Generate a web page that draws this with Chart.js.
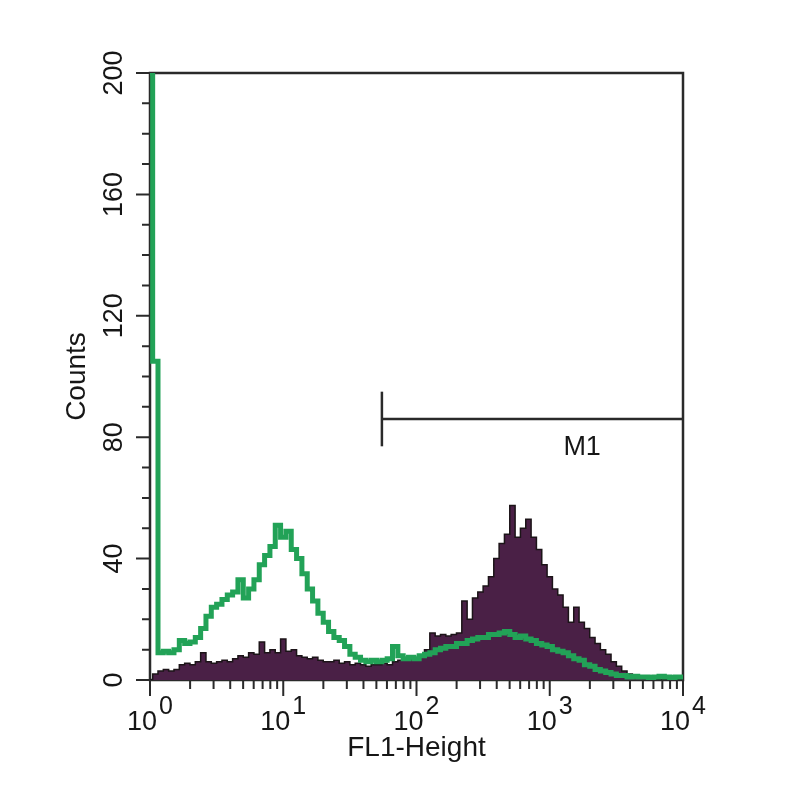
<!DOCTYPE html>
<html>
<head>
<meta charset="utf-8">
<title>FL1-Height histogram</title>
<script src="https://cdn.jsdelivr.net/npm/chart.js@4.4.1/dist/chart.umd.min.js"></script>
<style>
  html, body { margin: 0; padding: 0; background: #fff; }
</style>
</head>
<body>
<canvas id="histogram" width="800" height="800"></canvas>
<script>
// FL1 channel grid: 25 bins per decade, 10^0 .. 10^4
const binsPerDecade = 25;
const channels = Array.from({ length: 4 * binsPerDecade + 1 }, (_, i) => Math.pow(10, i / binsPerDecade));

// control sample (green outline)
const controlCounts = [
  200, 105, 9, 9.5, 9, 10, 13, 12, 12.5, 14,
  17, 21, 24, 25, 26.5, 28, 29, 33, 27, 30,
  33, 38, 41, 44, 51, 47, 49, 43, 40, 35,
  30, 26, 22, 19, 16, 14, 13, 11, 8.5, 7.5,
  6.5, 6, 6.5, 6, 6.5, 7, 11, 8, 7, 7.5,
  7, 8, 8.5, 9, 10, 10.5, 11, 11, 12, 12,
  13, 13.5, 14, 14, 15, 15, 15.5, 16, 15, 14,
  14.5, 13.5, 13, 12, 11.5, 11, 10, 9.5, 9, 8,
  7, 6.5, 5, 4.5, 3.5, 3, 2.5, 2, 1.5, 1.5,
  1, 1.2, 1, 1, 0.8, 1, 1.2, 1, 0.8, 1,
  1
];

// stained sample (filled purple)
const stainedCounts = [
  0, 2, 3, 3.5, 3, 3.5, 5, 5.5, 5, 6,
  9, 6, 5.5, 6, 6.5, 6, 7, 8, 7.5, 9,
  8.5, 12.5, 9, 10, 9, 13.5, 9.5, 10, 8, 7.5,
  7, 7.5, 6.5, 6, 6, 6.5, 5.5, 6, 5, 5.5,
  5, 4.5, 5, 5, 5.5, 5, 6, 6.5, 6.5, 7,
  7, 8, 10, 15.5, 14.5, 15, 14.5, 15, 15.5, 26,
  20, 27, 29, 31, 34, 40, 45, 48, 57.5, 47,
  50, 53, 47, 43, 38, 34, 30, 28, 24, 19,
  24, 19, 17, 14, 12, 10, 8.5, 6, 4.5, 3,
  2, 1.2, 0.8, 0.5, 0.3, 0.3, 0.2, 0.2, 0, 0,
  0
];

// axes
const yTickValues = [0, 40, 80, 120, 160, 200];
const yTickLabels = ['0', '40', '80', '120', '160', '200'];
const yMinorStep = 10;
const xDecades = [1, 10, 100, 1000, 10000];
const xExponents = ['0', '1', '2', '3', '4'];

// marker gate
const gateName = 'M1';
const gateRange = [55, 10000];
const gateLevel = 86;
const gateTick = 9;
const gateLabelX = 1750;

const ink = '#161616';
const fontFamily = "'Liberation Sans', Arial, Helvetica, sans-serif";

const toPoints = (ys) => ys.map((v, i) => ({ x: channels[i], y: v }));

const axisDecor = {
  id: 'axisDecor',
  beforeDatasetsDraw(chart) {
    const { ctx, chartArea: a, scales: { x, y } } = chart;
    ctx.save();
    ctx.strokeStyle = '#2a2a2a';
    ctx.lineWidth = 2.5;
    ctx.strokeRect(a.left, a.top, a.right - a.left, a.bottom - a.top);

    ctx.lineWidth = 2;
    ctx.beginPath();
    for (let v = 0; v <= 200; v += yMinorStep) {
      const py = y.getPixelForValue(v);
      const len = yTickValues.includes(v) ? 14 : 8;
      ctx.moveTo(a.left - len, py);
      ctx.lineTo(a.left, py);
    }
    xDecades.forEach((d, i) => {
      const px = x.getPixelForValue(d);
      ctx.moveTo(px, a.bottom);
      ctx.lineTo(px, a.bottom + 16);
      if (i < xDecades.length - 1) {
        for (let k = 2; k <= 9; k++) {
          const mx = x.getPixelForValue(k * d);
          ctx.moveTo(mx, a.bottom);
          ctx.lineTo(mx, a.bottom + 9);
        }
      }
    });
    ctx.stroke();
    ctx.restore();
  },
  afterDraw(chart) {
    const { ctx, chartArea: a, scales: { x, y } } = chart;
    ctx.save();
    ctx.fillStyle = ink;

    // y tick labels, rotated
    ctx.font = '27px ' + fontFamily;
    ctx.textAlign = 'center';
    ctx.textBaseline = 'alphabetic';
    yTickValues.forEach((v, i) => {
      ctx.save();
      ctx.translate(a.left - 28, y.getPixelForValue(v));
      ctx.rotate(-Math.PI / 2);
      ctx.fillText(yTickLabels[i], 0, 0);
      ctx.restore();
    });

    // x tick labels 10^n
    ctx.textAlign = 'left';
    xDecades.forEach((d, i) => {
      const px = x.getPixelForValue(d);
      ctx.font = '27px ' + fontFamily;
      const wBase = ctx.measureText('10').width;
      ctx.font = '25px ' + fontFamily;
      const wExp = ctx.measureText(xExponents[i]).width;
      const start = px - (wBase + wExp + 2) / 2;
      ctx.font = '27px ' + fontFamily;
      ctx.fillText('10', start, a.bottom + 50);
      ctx.font = '25px ' + fontFamily;
      ctx.fillText(xExponents[i], start + wBase + 2, a.bottom + 34);
    });

    // gate label
    ctx.font = '27px ' + fontFamily;
    ctx.textAlign = 'center';
    ctx.fillText(gateName, x.getPixelForValue(gateLabelX), y.getPixelForValue(gateLevel) + 36);
    ctx.restore();
  }
};

new Chart(document.getElementById('histogram'), {
  type: 'line',
  data: {
    datasets: [
      {
        label: 'Control',
        data: toPoints(controlCounts),
        borderColor: '#22a257',
        borderWidth: 5,
        stepped: 'middle',
        fill: false,
        pointRadius: 0,
        order: 0
      },
      {
        label: 'Stained',
        data: toPoints(stainedCounts),
        borderColor: '#1c1418',
        backgroundColor: '#4a2046',
        borderWidth: 1.5,
        stepped: 'middle',
        fill: 'origin',
        pointRadius: 0,
        order: 1
      },
      {
        label: gateName,
        data: [{ x: gateRange[0], y: gateLevel }, { x: gateRange[1], y: gateLevel }],
        borderColor: '#2a2a2a',
        borderWidth: 2.5,
        pointRadius: 0,
        order: 2
      },
      {
        label: gateName + ' start',
        data: [{ x: gateRange[0], y: gateLevel - gateTick }, { x: gateRange[0], y: gateLevel + gateTick }],
        borderColor: '#2a2a2a',
        borderWidth: 2.5,
        pointRadius: 0,
        order: 2
      }
    ]
  },
  options: {
    responsive: false,
    animation: false,
    layout: { padding: { top: 73, right: 117, left: 0, bottom: 0 } },
    plugins: {
      legend: { display: false },
      tooltip: { enabled: false }
    },
    scales: {
      x: {
        type: 'logarithmic',
        min: 1,
        max: 10000,
        grid: { display: false },
        border: { display: false },
        ticks: { display: false },
        title: {
          display: true,
          text: 'FL1-Height',
          color: ink,
          font: { family: fontFamily, size: 28 },
          padding: { top: 0, bottom: 35 }
        },
        afterFit: (scale) => { scale.height = 120; }
      },
      y: {
        min: 0,
        max: 200,
        grid: { display: false },
        border: { display: false },
        ticks: { display: false },
        title: {
          display: true,
          text: 'Counts',
          color: ink,
          font: { family: fontFamily, size: 28 },
          padding: { top: 60, bottom: 0 }
        },
        afterFit: (scale) => { scale.width = 150; }
      }
    }
  },
  plugins: [axisDecor]
});
</script>
</body>
</html>
